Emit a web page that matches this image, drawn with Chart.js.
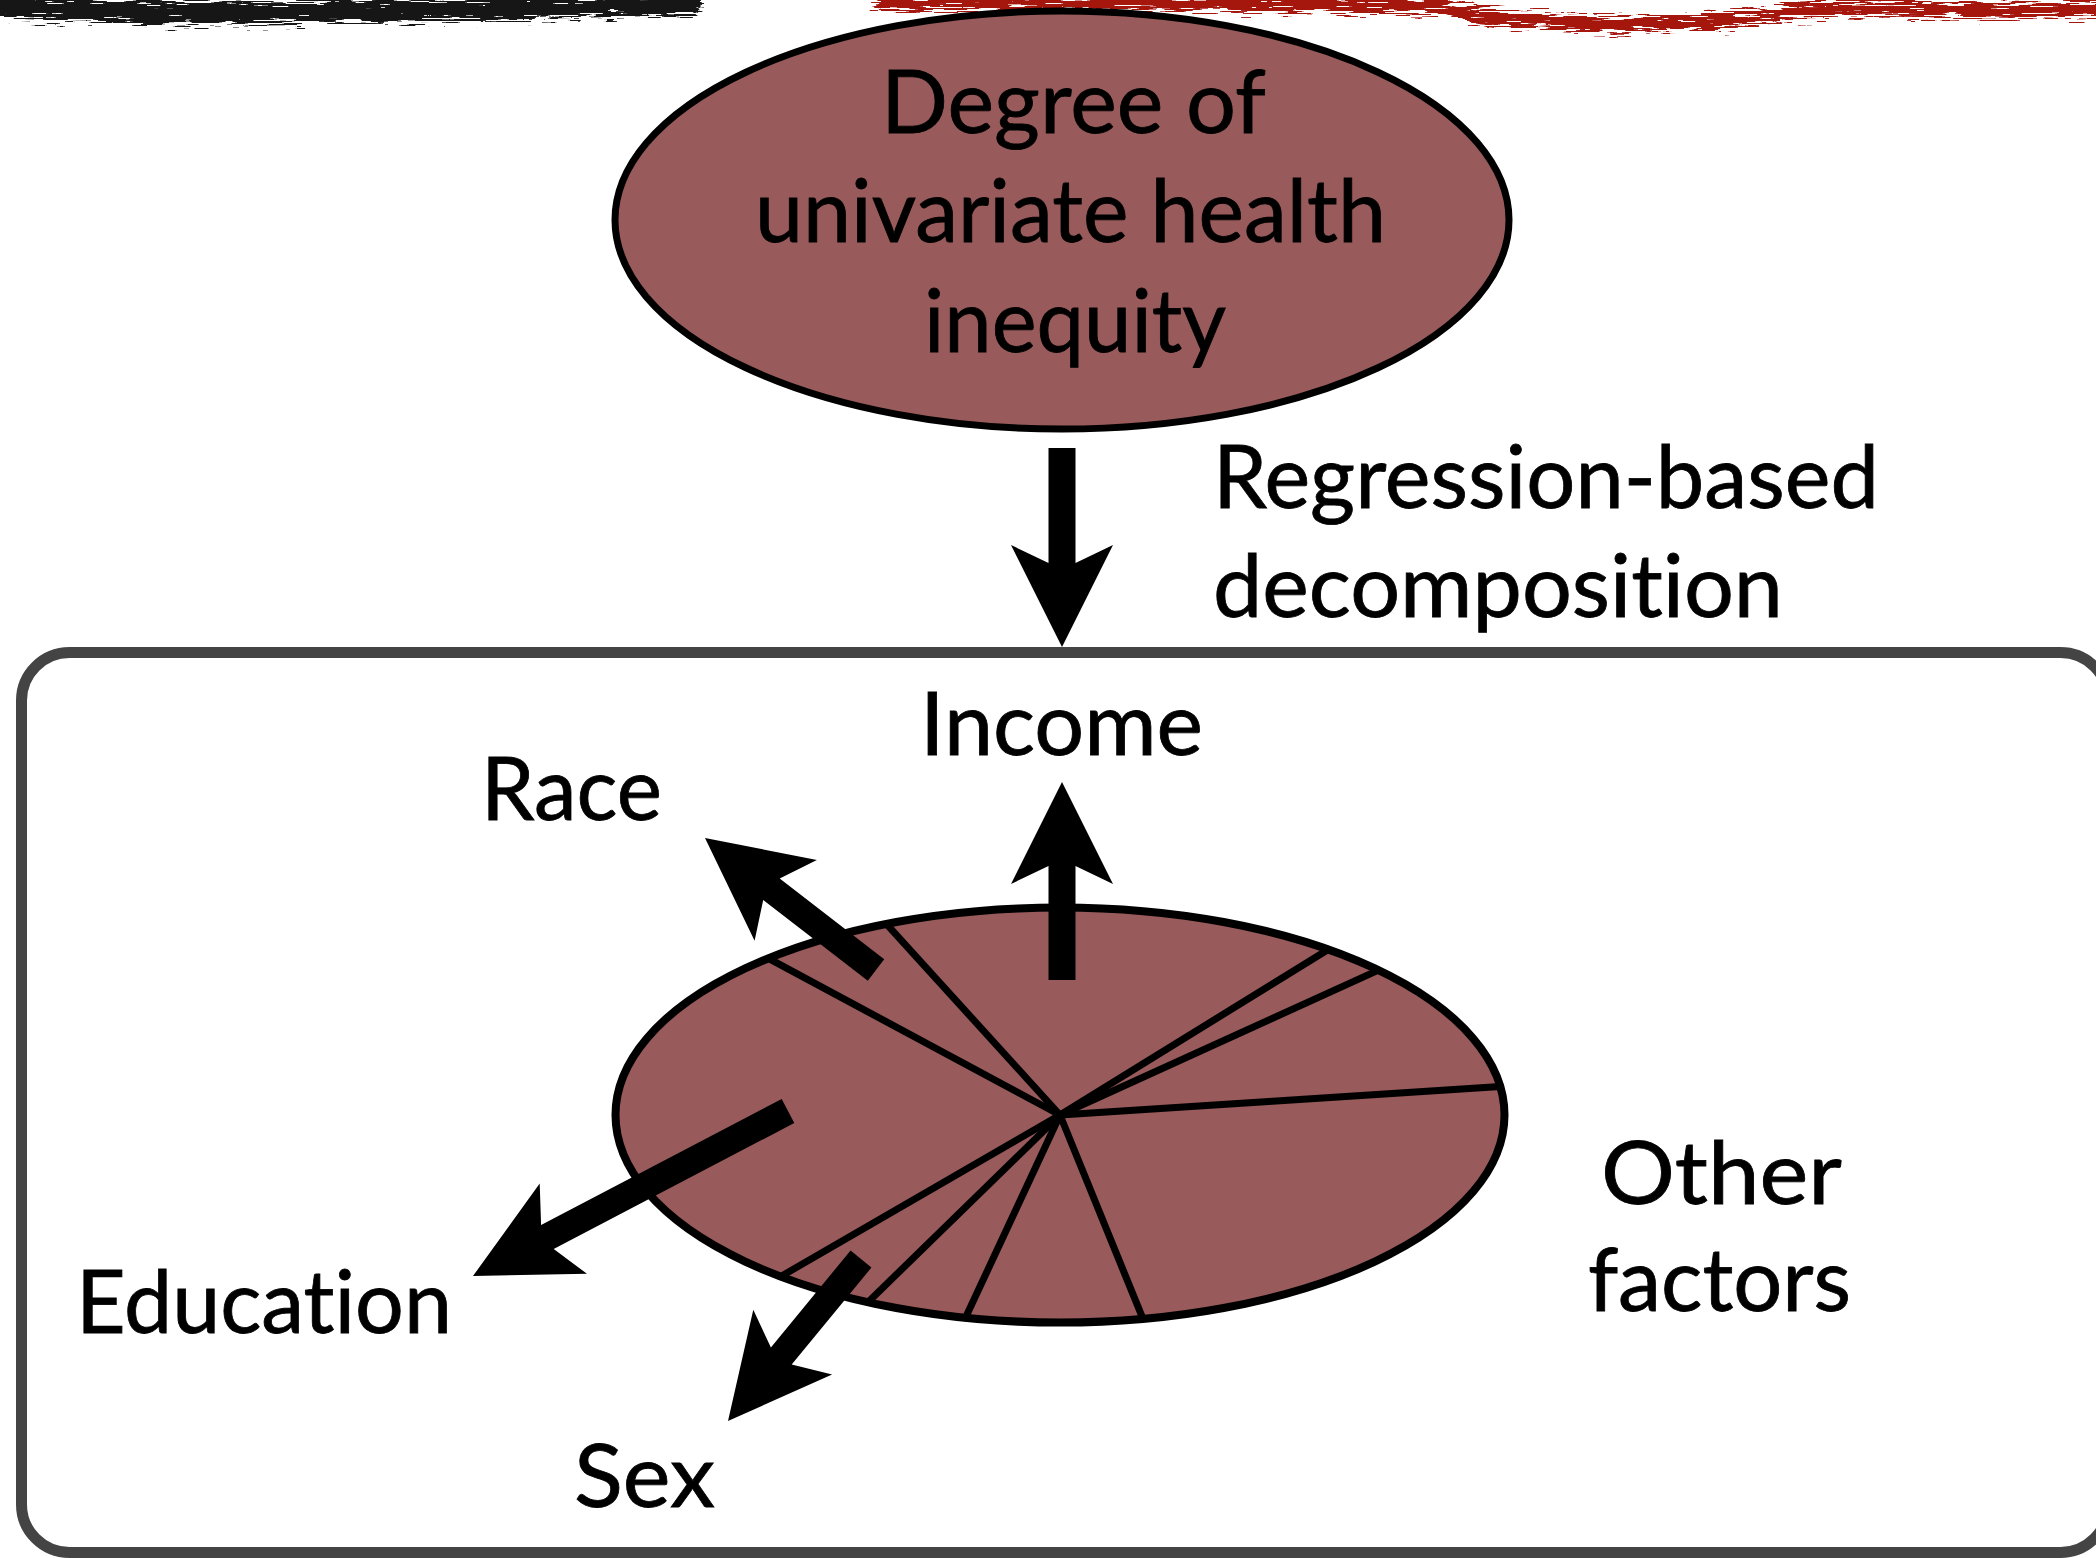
<!DOCTYPE html>
<html>
<head>
<meta charset="utf-8">
<script src="https://cdn.jsdelivr.net/npm/chart.js@4.4.1/dist/chart.umd.min.js"></script>
<style>
html, body { margin: 0; padding: 0; background: #fff; width: 2096px; height: 1558px; overflow: hidden; }
#back, #front { position: absolute; left: 0; top: 0; }
#pieBox { position: absolute; left: 0; top: 0; width: 2096px; height: 1700px; }
#front { pointer-events: none; }
text { font-family: Lato, "Open Sans", sans-serif; font-size: 87px; fill: #000; font-variant-ligatures: none; stroke: #000; stroke-width: 0.8px; }
</style>
</head>
<body>
<svg id="back" width="2096" height="1558">
  <defs>
    <filter id="rough" x="-5%" y="-300%" width="110%" height="700%">
      <feTurbulence type="fractalNoise" baseFrequency="0.03 0.6" numOctaves="3" seed="4" result="n"/>
      <feDisplacementMap in="SourceGraphic" in2="n" scale="26" xChannelSelector="R" yChannelSelector="G"/>
    </filter>
  </defs>
  <!-- brush strokes along the top edge -->
  <g filter="url(#rough)" fill="none" stroke-linecap="round">
    <path d="M-10 6 C 150 16, 300 14, 690 4" stroke="#151515" stroke-width="22"/>
    <path d="M880 2 C 1000 5, 1300 2, 1440 6 C 1500 30, 1760 28, 1790 10 C 1900 4, 2000 16, 2110 8" stroke="#a5120e" stroke-width="14"/>
  </g>
  <!-- top node -->
  <ellipse cx="1062" cy="220" rx="447" ry="209" fill="#985a5a" stroke="#000" stroke-width="7"/>
  <!-- decomposition box -->
  <rect x="21.5" y="652.5" width="2087" height="900" rx="48" ry="48" fill="none" stroke="#444" stroke-width="11"/>
</svg>

<div id="pieBox"><canvas id="pie"></canvas></div>

<svg id="front" width="2096" height="1558">
  <g id="arrows" fill="#000"></g>
  <text x="881" y="133" textLength="385" lengthAdjust="spacingAndGlyphs">Degree of</text>
  <text x="755" y="242" textLength="631" lengthAdjust="spacingAndGlyphs">univariate health</text>
  <text x="924" y="352" textLength="302" lengthAdjust="spacingAndGlyphs">inequity</text>
  <text x="1213" y="508" textLength="666" lengthAdjust="spacingAndGlyphs">Regression-based</text>
  <text x="1213" y="617" textLength="570" lengthAdjust="spacingAndGlyphs">decomposition</text>
  <text x="920" y="755" textLength="283" lengthAdjust="spacingAndGlyphs">Income</text>
  <text x="481" y="820" textLength="181" lengthAdjust="spacingAndGlyphs">Race</text>
  <text x="76" y="1333" textLength="376" lengthAdjust="spacingAndGlyphs">Education</text>
  <text x="574" y="1507" textLength="141" lengthAdjust="spacingAndGlyphs">Sex</text>
  <text x="1601" y="1204" textLength="241" lengthAdjust="spacingAndGlyphs">Other</text>
  <text x="1588" y="1311" textLength="263" lengthAdjust="spacingAndGlyphs">factors</text>
</svg>

<script>
// share of the inequity attributed to each factor (percent), clockwise from the Income slice
const factors = ['Income', 'Other 1', 'Other 2', 'Other 3', 'Other 4', 'Other 5', 'Sex', 'Education', 'Race'];
const shares = [16.7, 2.4, 10.1, 24.2, 6.4, 3.7, 3.7, 27.8, 5.0];
const startAngle = -23;   // degrees, where the Income slice begins
const tilt = 0.467;       // vertical squash of the pie

// arrows: [tailX, tailY, tipX, tipY]
const arrows = [
  [1062, 448, 1062, 647],
  [1062, 980, 1062, 782],
  [876, 970, 705, 838],
  [788, 1111, 473, 1276],
  [861, 1259, 728, 1421]
];

function arrowPoints(a) {
  let [x0, y0, x1, y1] = a;
  let len = Math.hypot(x1 - x0, y1 - y0);
  let ux = (x1 - x0) / len, uy = (y1 - y0) / len;
  let px = -uy, py = ux;
  let shaft = 13.5, barb = 51, head = 102, notch = 84;
  let pts = [
    [x0 + px * shaft, y0 + py * shaft],
    [x1 - ux * notch + px * shaft, y1 - uy * notch + py * shaft],
    [x1 - ux * head + px * barb, y1 - uy * head + py * barb],
    [x1, y1],
    [x1 - ux * head - px * barb, y1 - uy * head - py * barb],
    [x1 - ux * notch - px * shaft, y1 - uy * notch - py * shaft],
    [x0 - px * shaft, y0 - py * shaft]
  ];
  return pts.map(p => p[0].toFixed(1) + ',' + p[1].toFixed(1)).join(' ');
}

const g = document.getElementById('arrows');
arrows.forEach(a => {
  let poly = document.createElementNS('http://www.w3.org/2000/svg', 'polygon');
  poly.setAttribute('points', arrowPoints(a));
  g.appendChild(poly);
});

// squash the pie into an ellipse and draw the outlines at even width
const tiltPlugin = {
  id: 'tilt',
  beforeDatasetsDraw(chart) {
    const a = chart.getDatasetMeta(0).data[0];
    const ctx = chart.ctx;
    ctx.save();
    ctx.translate(a.x, a.y);
    ctx.scale(1, tilt);
    ctx.translate(-a.x, -a.y);
  },
  afterDatasetsDraw(chart) {
    const ctx = chart.ctx;
    ctx.restore();
    const arcs = chart.getDatasetMeta(0).data;
    const c = arcs[0];
    const r = c.outerRadius;
    ctx.save();
    ctx.strokeStyle = '#000';
    ctx.lineCap = 'round';
    ctx.lineWidth = 7;
    arcs.forEach(a => {
      ctx.beginPath();
      ctx.moveTo(c.x, c.y);
      ctx.lineTo(c.x + r * Math.cos(a.startAngle), c.y + r * tilt * Math.sin(a.startAngle));
      ctx.stroke();
    });
    ctx.lineWidth = 8;
    ctx.beginPath();
    ctx.ellipse(c.x, c.y, r, r * tilt, 0, 0, Math.PI * 2);
    ctx.stroke();
    ctx.restore();
  }
};

new Chart(document.getElementById('pie'), {
  type: 'pie',
  data: {
    labels: factors,
    datasets: [{
      data: shares,
      backgroundColor: '#985a5a',
      borderColor: '#985a5a',
      borderWidth: 1
    }]
  },
  options: {
    responsive: true,
    maintainAspectRatio: false,
    animation: false,
    events: [],
    rotation: startAngle,
    layout: { padding: { left: 615, right: 591, top: 670, bottom: 140 } },
    plugins: { legend: { display: false }, tooltip: { enabled: false } }
  },
  plugins: [tiltPlugin]
});
</script>
</body>
</html>
